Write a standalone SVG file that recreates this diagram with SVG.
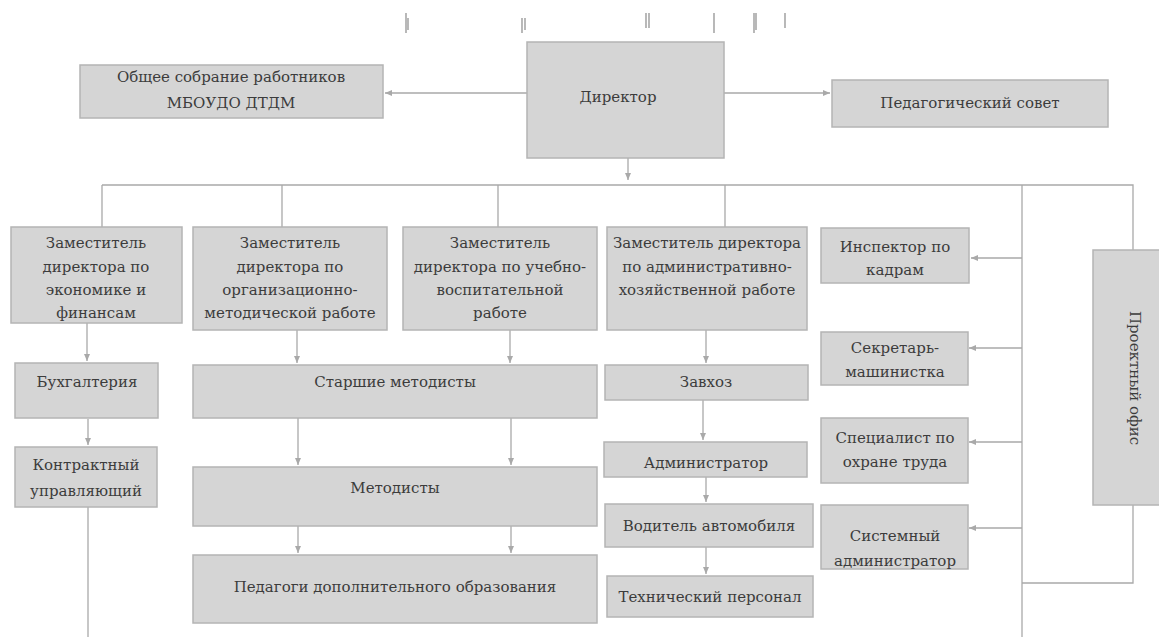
<svg xmlns="http://www.w3.org/2000/svg" width="1159" height="637" viewBox="0 0 1159 637">
<defs>
<marker id="ah" markerWidth="8" markerHeight="8" refX="7" refY="4" orient="auto" markerUnits="userSpaceOnUse">
<path d="M0,1 L7,4 L0,7 Z" fill="#a9a9a9"/>
</marker>
<style>
.box{fill:#d5d5d5;stroke:#b4b4b4;stroke-width:1.5}
.t{font-family:"DejaVu Serif","Liberation Serif",serif;font-size:15px;fill:#3c3c3c;text-anchor:middle}
.ln{fill:none;stroke:#a9a9a9;stroke-width:1.3}
.ar{fill:none;stroke:#a9a9a9;stroke-width:1.3;marker-end:url(#ah)}
.mk{fill:none;stroke:#8a8a8a;stroke-width:1.2}
</style>
</defs>
<rect width="1159" height="637" fill="#ffffff"/>

<g id="marks">
<path class="mk" d="M406,13 V33 M408,18 V30 M522,18 V33 M525,18 V30 M646,13 V28 M649,13 V28 M714,13 V33 M754,13 V33 M756,13 V30 M785,13 V28"/>
</g>

<g id="connectors">
<path class="ar" d="M527,93 H385"/>
<path class="ar" d="M724,93 H830"/>
<path class="ar" d="M628,158 V180"/>
<path class="ln" d="M102,185 H1133 V250"/>
<path class="ln" d="M102,185 V227 M282,185 V227 M498,185 V227 M725,185 V227"/>
<path class="ln" d="M1022,185 V637"/>
<path class="ln" d="M1133,505 V583 H1022"/>
<path class="ar" d="M1022,258 H971"/>
<path class="ar" d="M1022,348 H969"/>
<path class="ar" d="M1022,442 H969"/>
<path class="ar" d="M1022,528 H969"/>
<path class="ar" d="M87,323 V361"/>
<path class="ar" d="M88,419 V445"/>
<path class="ln" d="M88,507 V637"/>
<path class="ar" d="M297,330 V363"/>
<path class="ar" d="M510,330 V363"/>
<path class="ar" d="M298,418 V465"/>
<path class="ar" d="M511,418 V465"/>
<path class="ar" d="M298,526 V553"/>
<path class="ar" d="M511,526 V553"/>
<path class="ar" d="M706,330 V363"/>
<path class="ar" d="M703,400 V440"/>
<path class="ar" d="M706,477 V502"/>
<path class="ar" d="M706,547 V574"/>
</g>

<g id="n-obshee"><rect class="box" x="80" y="65" width="303" height="53"/>
<text class="t" x="231" y="82">Общее собрание работников</text>
<text class="t" x="231" y="108">МБОУДО ДТДМ</text></g>

<g id="n-director"><rect class="box" x="527" y="42" width="197" height="116"/>
<text class="t" x="618" y="102">Директор</text></g>

<g id="n-pedsovet"><rect class="box" x="832" y="80" width="276" height="47"/>
<text class="t" x="970" y="108">Педагогический совет</text></g>

<g id="n-zam-econ"><rect class="box" x="11" y="227" width="171" height="96"/>
<text class="t" x="96" y="248">Заместитель</text>
<text class="t" x="96" y="272">директора по</text>
<text class="t" x="96" y="295">экономике и</text>
<text class="t" x="96" y="318">финансам</text></g>

<g id="n-zam-org"><rect class="box" x="193" y="227" width="194" height="103"/>
<text class="t" x="290" y="248">Заместитель</text>
<text class="t" x="290" y="272">директора по</text>
<text class="t" x="290" y="295">организационно-</text>
<text class="t" x="290" y="318">методической работе</text></g>

<g id="n-zam-uvr"><rect class="box" x="403" y="227" width="194" height="103"/>
<text class="t" x="500" y="248">Заместитель</text>
<text class="t" x="500" y="272">директора по учебно-</text>
<text class="t" x="500" y="295">воспитательной</text>
<text class="t" x="500" y="318">работе</text></g>

<g id="n-zam-ahr"><rect class="box" x="607" y="227" width="200" height="103"/>
<text class="t" x="707" y="248">Заместитель директора</text>
<text class="t" x="707" y="272">по административно-</text>
<text class="t" x="707" y="295">хозяйственной работе</text></g>

<g id="n-inspektor"><rect class="box" x="821" y="228" width="148" height="55"/>
<text class="t" x="895" y="252">Инспектор по</text>
<text class="t" x="895" y="275">кадрам</text></g>

<g id="n-sekretar"><rect class="box" x="821" y="332" width="147" height="53"/>
<text class="t" x="895" y="353">Секретарь-</text>
<text class="t" x="895" y="377">машинистка</text></g>

<g id="n-specialist"><rect class="box" x="821" y="418" width="147" height="65"/>
<text class="t" x="895" y="443">Специалист по</text>
<text class="t" x="895" y="467">охране труда</text></g>

<g id="n-sysadmin"><rect class="box" x="821" y="505" width="147" height="64"/>
<text class="t" x="895" y="541">Системный</text>
<text class="t" x="895" y="566">администратор</text></g>

<g id="n-proekt"><rect class="box" x="1093" y="250" width="70" height="255"/>
<text class="t" transform="translate(1130,378) rotate(90)" x="0" y="0">Проектный офис</text></g>

<g id="n-buh"><rect class="box" x="15" y="363" width="143" height="55"/>
<text class="t" x="87" y="387">Бухгалтерия</text></g>

<g id="n-kontrakt"><rect class="box" x="15" y="447" width="142" height="60"/>
<text class="t" x="86" y="470">Контрактный</text>
<text class="t" x="86" y="496">управляющий</text></g>

<g id="n-starshie"><rect class="box" x="193" y="365" width="404" height="53"/>
<text class="t" x="395" y="387">Старшие методисты</text></g>

<g id="n-metodisty"><rect class="box" x="193" y="467" width="404" height="59"/>
<text class="t" x="395" y="493">Методисты</text></g>

<g id="n-pedagogi"><rect class="box" x="193" y="555" width="404" height="68"/>
<text class="t" x="395" y="592">Педагоги дополнительного образования</text></g>

<g id="n-zavhoz"><rect class="box" x="605" y="365" width="203" height="35"/>
<text class="t" x="706" y="387">Завхоз</text></g>

<g id="n-admin"><rect class="box" x="604" y="442" width="203" height="35"/>
<text class="t" x="706" y="468">Администратор</text></g>

<g id="n-voditel"><rect class="box" x="605" y="504" width="208" height="43"/>
<text class="t" x="709" y="531">Водитель автомобиля</text></g>

<g id="n-tech"><rect class="box" x="607" y="576" width="206" height="41"/>
<text class="t" x="710" y="602">Технический персонал</text></g>
</svg>
